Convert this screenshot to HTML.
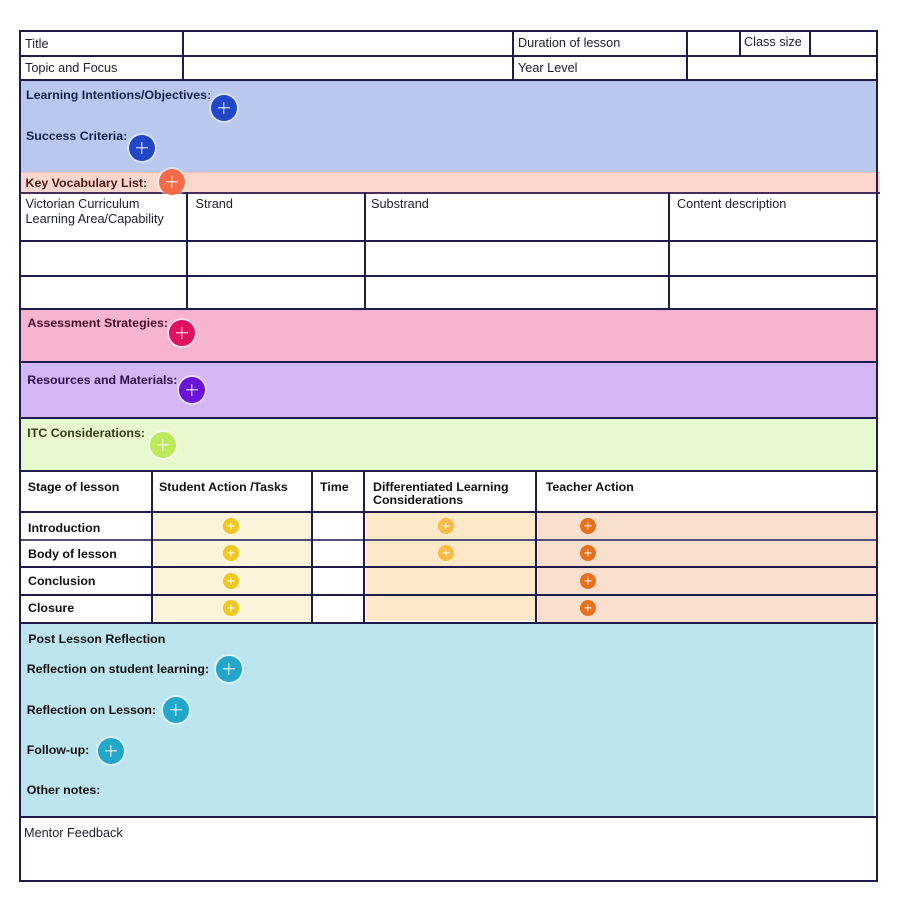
<!DOCTYPE html>
<html><head><meta charset="utf-8"><style>
html,body{margin:0;padding:0;background:#fff;}
#p{position:relative;width:900px;height:900px;overflow:hidden;background:#fff;font-family:"Liberation Sans",Arial,sans-serif;}
.f{position:absolute;}
.h{position:absolute;height:2px;background:#1f1b4d;}
.v{position:absolute;width:2px;background:#1f1b4d;}
.t{position:absolute;white-space:nowrap;font-size:12.7px;line-height:12.7px;color:#1e1e2a;}
.b{position:absolute;white-space:nowrap;font-size:12.4px;line-height:12.2px;font-weight:bold;color:#111;}
.c{position:absolute;width:26px;height:26px;border-radius:50%;box-shadow:0 0 0 2px rgba(255,255,255,.45);}
.c::before,.c::after{content:"";position:absolute;background:#fff;left:50%;top:50%;transform:translate(-50%,-50%);}
.c::before{width:12px;height:1.4px;}
.c::after{width:1.4px;height:12px;}
.s{position:absolute;width:16px;height:16px;border-radius:50%;}
.s::before,.s::after{content:"";position:absolute;background:#fff;left:50%;top:50%;transform:translate(-50%,-50%);}
.s::before{width:7px;height:1.2px;}
.s::after{width:1.2px;height:7px;}
</style></head><body><div id="p">

<!-- fills -->
<div class="f" style="left:21px;top:81px;width:855px;height:91px;background:#bac8f0"></div>
<div class="f" style="left:21px;top:172px;width:859px;height:21px;background:#fdd7cd;border-top:1px solid #f3c0b8;box-sizing:border-box"></div>
<div class="f" style="left:21px;top:310px;width:855px;height:52px;background:#f6b4cf"></div>
<div class="f" style="left:21px;top:363px;width:855px;height:55px;background:#d2b7f4"></div>
<div class="f" style="left:21px;top:419px;width:855px;height:51px;background:#e9f9cf"></div>
<div class="f" style="left:154px;top:513px;width:158px;height:110px;background:#fbf3da"></div>
<div class="f" style="left:366px;top:513px;width:170px;height:108px;background:#fde9c7"></div>
<div class="f" style="left:538px;top:513px;width:338px;height:110px;background:#f9dfcd"></div>
<div class="f" style="left:21px;top:624px;width:853px;height:193px;background:#bce5ef"></div>

<!-- horizontal lines -->
<div class="h" style="left:19px;top:30px;width:859px"></div>
<div class="h" style="left:19px;top:55px;width:859px"></div>
<div class="h" style="left:19px;top:79px;width:859px"></div>
<div class="h" style="left:19px;top:192px;width:861px;background:#4b2b58"></div>
<div class="h" style="left:19px;top:240px;width:859px"></div>
<div class="h" style="left:19px;top:275px;width:859px"></div>
<div class="h" style="left:19px;top:308px;width:859px"></div>
<div class="h" style="left:19px;top:361px;width:859px;height:1.5px"></div>
<div class="h" style="left:19px;top:417px;width:859px"></div>
<div class="h" style="left:19px;top:470px;width:859px"></div>
<div class="h" style="left:19px;top:511px;width:859px"></div>
<div class="h" style="left:19px;top:539px;width:859px;height:1.5px;background:#50507a"></div>
<div class="h" style="left:19px;top:566px;width:859px"></div>
<div class="h" style="left:19px;top:594px;width:859px"></div>
<div class="h" style="left:19px;top:622px;width:859px"></div>
<div class="h" style="left:19px;top:816px;width:859px"></div>
<div class="h" style="left:19px;top:880px;width:859px"></div>

<!-- vertical lines -->
<div class="v" style="left:19px;top:30px;height:852px"></div>
<div class="v" style="left:876px;top:30px;height:852px"></div>
<div class="v" style="left:182px;top:30px;height:50px"></div>
<div class="v" style="left:512px;top:30px;height:50px"></div>
<div class="v" style="left:686px;top:30px;height:50px"></div>
<div class="v" style="left:739px;top:30px;height:26px"></div>
<div class="v" style="left:809px;top:30px;height:26px"></div>
<div class="v" style="left:186px;top:192px;height:118px"></div>
<div class="v" style="left:364px;top:192px;height:118px"></div>
<div class="v" style="left:668px;top:192px;height:118px"></div>
<div class="v" style="left:151px;top:470px;height:153px"></div>
<div class="v" style="left:311px;top:470px;height:153px"></div>
<div class="v" style="left:363px;top:470px;height:153px"></div>
<div class="v" style="left:535px;top:470px;height:153px"></div>

<!-- regular text -->
<div class="t" style="left:25px;top:37.5px">Title</div>
<div class="t" style="left:25px;top:61.6px">Topic and Focus</div>
<div class="t" style="left:518px;top:37.3px">Duration of lesson</div>
<div class="t" style="left:744px;top:35.8px">Class size</div>
<div class="t" style="left:518px;top:61.6px">Year Level</div>
<div class="t" style="left:25.5px;top:197.4px;line-height:14.4px">Victorian Curriculum<br>Learning Area/Capability</div>
<div class="t" style="left:195.5px;top:198.3px">Strand</div>
<div class="t" style="left:371px;top:198.3px">Substrand</div>
<div class="t" style="left:677px;top:198.3px">Content description</div>
<div class="t" style="left:24px;top:827.3px">Mentor Feedback</div>

<!-- bold labels -->
<div class="b" style="left:26px;top:88.7px;color:#16204a">Learning Intentions/Objectives:</div>
<div class="b" style="left:26px;top:130.2px;color:#16204a">Success Criteria:</div>
<div class="b" style="left:25.5px;top:177px;color:#4a1c18">Key Vocabulary List:</div>
<div class="b" style="left:27.5px;top:317px;color:#4a0f2c">Assessment Strategies:</div>
<div class="b" style="left:27.3px;top:374px;color:#2c1150">Resources and Materials:</div>
<div class="b" style="left:27.3px;top:427px;color:#2f3d14">ITC Considerations:</div>

<div class="b" style="left:27.7px;top:481.4px">Stage of lesson</div>
<div class="b" style="left:159px;top:481.4px">Student Action /Tasks</div>
<div class="b" style="left:320px;top:481.4px">Time</div>
<div class="b" style="left:373px;top:481.2px;line-height:12.6px">Differentiated Learning<br>Considerations</div>
<div class="b" style="left:545.7px;top:481.4px">Teacher Action</div>

<div class="b" style="left:28px;top:522px">Introduction</div>
<div class="b" style="left:28px;top:548px">Body of lesson</div>
<div class="b" style="left:28px;top:575px">Conclusion</div>
<div class="b" style="left:28px;top:602px">Closure</div>

<div class="b" style="left:28.3px;top:633px">Post Lesson Reflection</div>
<div class="b" style="left:26.7px;top:663px">Reflection on student learning:</div>
<div class="b" style="left:26.7px;top:703.7px">Reflection on Lesson:</div>
<div class="b" style="left:26.7px;top:744px">Follow-up:</div>
<div class="b" style="left:26.7px;top:784px">Other notes:</div>

<!-- big circles -->
<div class="c" style="left:211px;top:95px;background:#2146c7"></div>
<div class="c" style="left:128.5px;top:134.5px;background:#2146c7"></div>
<div class="c" style="left:159px;top:169px;background:#f76a48"></div>
<div class="c" style="left:169px;top:320px;background:#e0115f"></div>
<div class="c" style="left:179px;top:377px;background:#6b12d9"></div>
<div class="c" style="left:150px;top:432px;background:#bde95a"></div>
<div class="c" style="left:216px;top:656px;background:#22a7cb"></div>
<div class="c" style="left:163px;top:697px;background:#22a7cb"></div>
<div class="c" style="left:98px;top:738px;background:#22a7cb"></div>

<!-- small circles -->
<div class="s" style="left:223px;top:518px;background:#f2c71f"></div>
<div class="s" style="left:223px;top:545px;background:#f2c71f"></div>
<div class="s" style="left:223px;top:572.5px;background:#f2c71f"></div>
<div class="s" style="left:223px;top:599.5px;background:#f2c71f"></div>
<div class="s" style="left:438px;top:518px;background:#f7bc45"></div>
<div class="s" style="left:438px;top:545px;background:#f7bc45"></div>
<div class="s" style="left:580px;top:518px;background:#e8701a"></div>
<div class="s" style="left:580px;top:545px;background:#e8701a"></div>
<div class="s" style="left:580px;top:572.5px;background:#e8701a"></div>
<div class="s" style="left:580px;top:599.5px;background:#e8701a"></div>

</div></body></html>
